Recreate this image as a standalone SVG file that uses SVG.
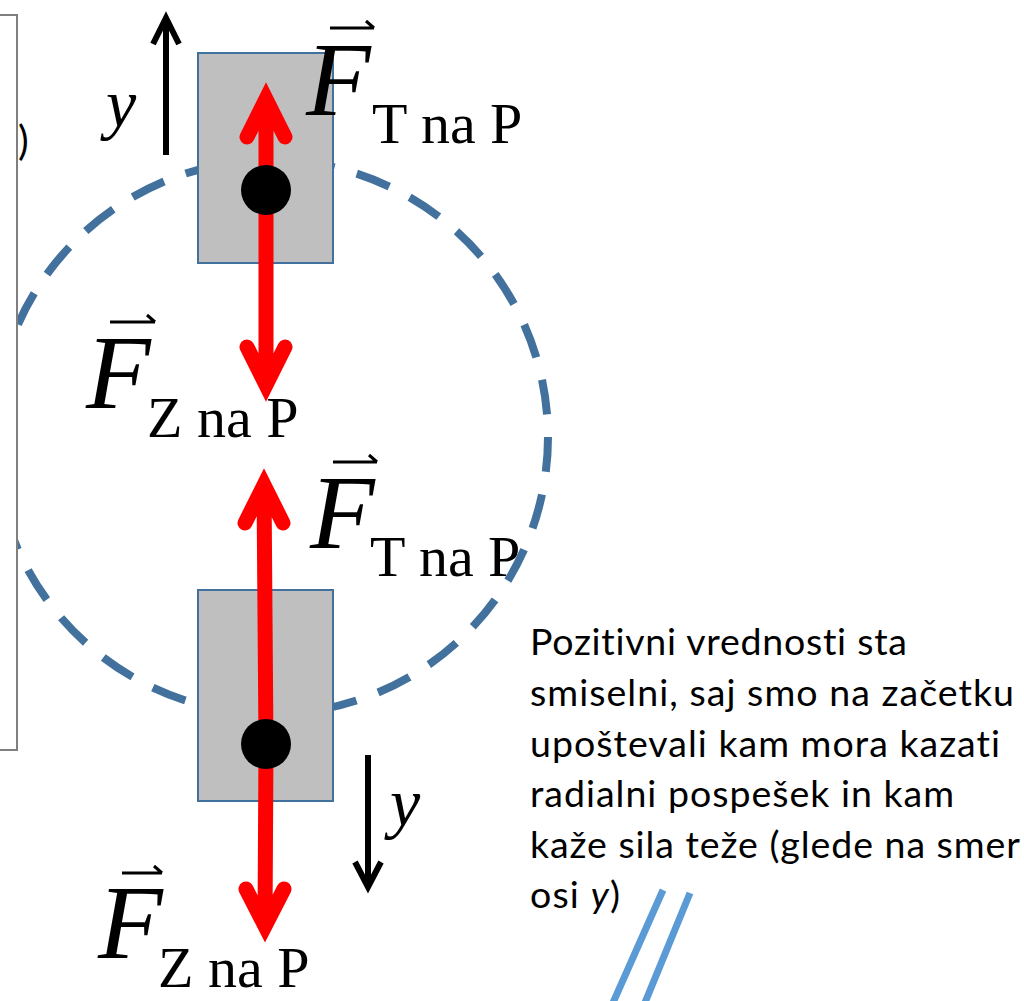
<svg xmlns="http://www.w3.org/2000/svg" width="1024" height="1001" viewBox="0 0 1024 1001">
<style>
.box{fill:#bfbfbf;stroke:#41719c;stroke-width:2}
.red{fill:none;stroke:#ff0000;stroke-width:15;stroke-linecap:round;stroke-linejoin:miter;stroke-miterlimit:10}
.ax{fill:none;stroke:#000;stroke-width:6;stroke-linecap:butt;stroke-linejoin:miter;stroke-miterlimit:10}
.F{font-family:"Liberation Serif",serif;font-style:italic;font-size:106px;fill:#000}
.sub{font-family:"Liberation Serif",serif;font-size:58px;fill:#000}
.yl{font-family:"Liberation Serif",serif;font-style:italic;font-size:68px;fill:#000}
.vec{fill:none;stroke:#000;stroke-width:3}
.txt{font-family:Lato,"Liberation Sans",sans-serif;font-size:37.5px;fill:#000;font-variant-ligatures:none}
</style>
<rect width="1024" height="1001" fill="#fff"/>
<g id="label-T-bottom">
  <text class="F" x="310" y="548">F</text>
  <path class="vec" d="M333 462 H377 M377 462 L369 455"/>
  <text class="sub" x="370" y="576">T na P</text>
</g>
<g id="orbit">
  <circle cx="271" cy="437" r="277" fill="none" stroke="#41719c" stroke-width="8" stroke-dasharray="35 23"/>
</g>
<g id="panel">
  <rect x="-5" y="15" width="22" height="735" fill="#fff" stroke="#7f7f7f" stroke-width="2"/>
  <text x="18" y="155" font-family="Lato,'Liberation Sans',sans-serif" font-size="40" fill="#000">)</text>
</g>
<g id="box-top"><rect class="box" x="198" y="53" width="135" height="210"/></g>
<g id="box-bottom"><rect class="box" x="198" y="590" width="135" height="211"/></g>
<g id="connectors">
  <path class="red" d="M266 190 V100 M247 137 L266 99 L285 137"/>
  <path class="red" d="M266 190 V384 M247 347 L266 385 L285 347"/>
  <path class="red" d="M266 744 L264 486 M245 523 L264 485 L283 523"/>
  <path class="red" d="M266 744 L265 925 M246 889 L265 926 L284 889"/>
  <path class="ax" d="M166 155 V22 M153 44 L166 18 L179 44"/>
  <path class="ax" d="M368 755 V884 M355 862 L368 887 L381 862"/>
</g>
<g id="dot-top"><circle cx="266" cy="190" r="25" fill="#000"/></g>
<g id="dot-bottom"><circle cx="266" cy="744" r="25" fill="#000"/></g>
<g id="label-T-top">
  <text class="F" x="306" y="115">F</text>
  <path class="vec" d="M330 28 H374 M374 28 L366 21"/>
  <text class="sub" x="372" y="143">T na P</text>
</g>
<g id="label-Z-top">
  <text class="F" x="86" y="408">F</text>
  <path class="vec" d="M110 322 H155 M155 322 L147 315"/>
  <text class="sub" x="147" y="437">Z na P</text>
</g>
<g id="label-Z-bottom">
  <text class="F" x="98" y="958">F</text>
  <path class="vec" d="M122 873 H162 M162 873 L154 866"/>
  <text class="sub" x="158" y="987">Z na P</text>
</g>
<g id="y-top"><text class="yl" x="106" y="127">y</text></g>
<g id="y-bottom"><text class="yl" x="390" y="826">y</text></g>
<g id="note">
  <text class="txt" x="530" y="655" textLength="377" lengthAdjust="spacing">Pozitivni vrednosti sta</text>
  <text class="txt" x="530" y="706" textLength="484" lengthAdjust="spacing">smiselni, saj smo na začetku</text>
  <text class="txt" x="530" y="757" textLength="470" lengthAdjust="spacing">upoštevali kam mora kazati</text>
  <text class="txt" x="530" y="807" textLength="424" lengthAdjust="spacing">radialni pospešek in kam</text>
  <text class="txt" x="530" y="858" textLength="490" lengthAdjust="spacing">kaže sila teže (glede na smer</text>
  <text class="txt" x="530" y="908" textLength="90" lengthAdjust="spacing">osi <tspan font-style="italic">y</tspan>)</text>
</g>
<g id="hatch">
  <path d="M663 890 L612 1005 M690 893 L644 1005" stroke="#5b9bd5" stroke-width="7" fill="none"/>
</g>
</svg>
